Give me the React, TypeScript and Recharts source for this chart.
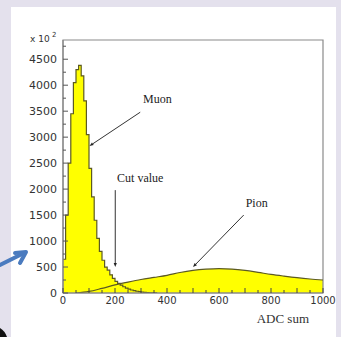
import React from "react";
import {
  ComposedChart,
  Area,
  Line,
  XAxis,
  YAxis,
  ReferenceArea,
  ReferenceLine,
  ReferenceDot,
} from "recharts";

// muon histogram, 10-unit bins (left edges) in units of 10^2 counts
const muonBins = [0, 10, 20, 30, 40, 50, 60, 70, 80, 90, 100, 110, 120, 130, 140, 150, 160, 170, 180, 190, 200, 210, 220, 230, 240, 250, 260, 270, 280, 290, 300, 310, 320, 330, 340, 350, 360];
const muonCounts = [650, 1500, 2500, 3450, 4050, 4300, 4380, 4180, 3700, 3050, 2400, 1850, 1400, 1050, 800, 630, 500, 440, 350, 280, 225, 185, 150, 120, 95, 75, 58, 45, 34, 25, 18, 12, 8, 5, 3, 1, 0];

// pion distribution sampled every 50
const pionX = [50, 100, 150, 200, 250, 300, 350, 400, 450, 500, 550, 600, 650, 700, 750, 800, 850, 900, 950, 1000];
const pionCounts = [0, 30, 90, 155, 210, 260, 300, 340, 395, 435, 458, 468, 460, 435, 398, 358, 325, 295, 270, 250];

const xTicks = [0, 50, 100, 150, 200, 250, 300, 350, 400, 450, 500, 550, 600, 650, 700, 750, 800, 850, 900, 950, 1000];
const yTicks = [0, 250, 500, 750, 1000, 1250, 1500, 1750, 2000, 2250, 2500, 2750, 3000, 3250, 3500, 3750, 4000, 4250, 4500, 4750];
const yMax = 4870;

// annotation labels and arrows, in data coordinates
const labels = [
  { text: "Muon", x: 363, y: 3730 },
  { text: "Cut value", x: 297, y: 2210 },
  { text: "Pion", x: 745, y: 1730 },
];
const arrows = [
  { from: { x: 297, y: 3480 }, to: { x: 102, y: 2830 } },
  { from: { x: 201, y: 1980 }, to: { x: 201, y: 500 } },
  { from: { x: 695, y: 1500 }, to: { x: 500, y: 500 } },
];

const FILL = "#ffff00";
const EDGE = "#5c5a22";
const FRAME = "#8a8a8a";
const SANS = "'DejaVu Sans', sans-serif";
const SERIF = "'Liberation Serif', 'Times New Roman', serif";

const rows = Array.from(new Set([...muonBins, ...pionX]))
  .sort((a, b) => a - b)
  .map((x) => {
    const mi = muonBins.indexOf(x);
    const pi = pionX.indexOf(x);
    return {
      x,
      muon: mi >= 0 ? muonCounts[mi] : undefined,
      pion: pi >= 0 ? pionCounts[pi] : undefined,
    };
  });

const XTick = (props: any) => {
  const { x, y, payload } = props;
  const v = payload.value as number;
  const axisY = y - 3;
  const len = v % 100 === 0 ? 5 : 3;
  return (
    <g>
      <line x1={x} x2={x} y1={axisY} y2={axisY - len} stroke="#444" strokeWidth={1} />
      {v % 200 === 0 && (
        <text x={x} y={y} dy="0.75em" textAnchor="middle" fontSize={10} fontFamily={SANS} fill="#333">
          {v}
        </text>
      )}
    </g>
  );
};

const YTick = (props: any) => {
  const { x, y, payload } = props;
  const v = payload.value as number;
  const axisX = x + 6;
  const len = v % 500 === 0 ? 5 : 3;
  return (
    <g>
      <line x1={axisX} x2={axisX + len} y1={y} y2={y} stroke="#555" strokeWidth={1} />
      {v % 500 === 0 && (
        <text x={x} y={y} dy="0.36em" textAnchor="end" fontSize={11} fontFamily={SANS} fill="#333">
          {v}
        </text>
      )}
    </g>
  );
};

const ArrowShape = (props: any) => {
  const { x1, y1, x2, y2 } = props;
  if ([x1, y1, x2, y2].some((n) => n == null || isNaN(n))) return null;
  const a = Math.atan2(y2 - y1, x2 - x1);
  const h = 4;
  const w = 1.6;
  const bx = x2 - h * Math.cos(a);
  const by = y2 - h * Math.sin(a);
  const pts = `${x2},${y2} ${bx + w * Math.sin(a)},${by - w * Math.cos(a)} ${bx - w * Math.sin(a)},${by + w * Math.cos(a)}`;
  return (
    <g>
      <line x1={x1} y1={y1} x2={bx} y2={by} stroke="#333" strokeWidth={1} />
      <polygon points={pts} fill="#222" />
    </g>
  );
};

export default function App() {
  return (
    <div style={{ position: "absolute", left: 0, top: 0, width: 341, height: 337, background: "#e4e1ed", overflow: "hidden" }}>
      <svg width={341} height={337} style={{ position: "absolute", left: 0, top: 0 }}>
        <rect x={11} y={7} width={325} height={330} fill="#ffffff" />
        <line x1={0} y1={265} x2={24} y2={253} stroke="#4a7bbf" strokeWidth={4} strokeLinecap="round" />
        <polyline points="15,253 26,252 20,263" fill="none" stroke="#4a7bbf" strokeWidth={4} strokeLinejoin="round" strokeLinecap="round" />
        <path d="M0,328 Q5,331 7,337 L0,337 Z" fill="#111" />
        <text x={30} y={42} fontSize={9} fontFamily={SANS} fill="#333">
          x 10
        </text>
        <text x={52} y={37} fontSize={7} fontFamily={SANS} fill="#333">
          2
        </text>
      </svg>
      <div style={{ position: "absolute", left: 0, top: 0 }}>
        <ComposedChart width={341} height={337} data={rows} margin={{ top: 40, right: 18, bottom: 0, left: 0 }}>
          <XAxis
            dataKey="x"
            type="number"
            domain={[0, 1000]}
            ticks={xTicks}
            allowDataOverflow
            height={44}
            axisLine={{ stroke: FRAME, strokeWidth: 1.2 }}
            tickLine={false}
            tickSize={0}
            tickMargin={3}
            tick={<XTick />}
            interval={0}
            label={{
              value: "ADC sum",
              position: "insideBottomRight",
              offset: 14,
              fontSize: 13,
              fontFamily: SERIF,
              fill: "#333",
            }}
          />
          <YAxis
            type="number"
            domain={[0, yMax]}
            ticks={yTicks}
            allowDataOverflow
            width={63}
            axisLine={{ stroke: FRAME, strokeWidth: 1.2 }}
            tickLine={false}
            tickSize={0}
            tickMargin={6}
            tick={<YTick />}
            interval={0}
          />
          <Area
            dataKey="muon"
            type="stepAfter"
            fill={FILL}
            fillOpacity={1}
            stroke="none"
            connectNulls
            isAnimationActive={false}
          />
          <Area
            dataKey="pion"
            type="monotone"
            fill={FILL}
            fillOpacity={1}
            stroke="none"
            connectNulls
            isAnimationActive={false}
          />
          <Line
            dataKey="muon"
            type="stepAfter"
            stroke={EDGE}
            strokeWidth={1.2}
            dot={false}
            connectNulls
            isAnimationActive={false}
          />
          <Line
            dataKey="pion"
            type="monotone"
            stroke={EDGE}
            strokeWidth={1.2}
            dot={false}
            connectNulls
            isAnimationActive={false}
          />
          <ReferenceArea x1={0} x2={1000} y1={0} y2={yMax} fill="none" stroke={FRAME} strokeWidth={1.2} ifOverflow="visible" />
          {arrows.map((a, i) => (
            <ReferenceLine key={i} segment={[a.from, a.to]} shape={<ArrowShape />} ifOverflow="visible" />
          ))}
          {labels.map((l) => (
            <ReferenceDot
              key={l.text}
              x={l.x}
              y={l.y}
              r={0}
              ifOverflow="visible"
              shape={(p: any) => (
                <text x={p.cx} y={p.cy} dy="0.35em" textAnchor="middle" fontSize={12} fontFamily={SERIF} fill="#222">
                  {l.text}
                </text>
              )}
            />
          ))}
        </ComposedChart>
      </div>
    </div>
  );
}
